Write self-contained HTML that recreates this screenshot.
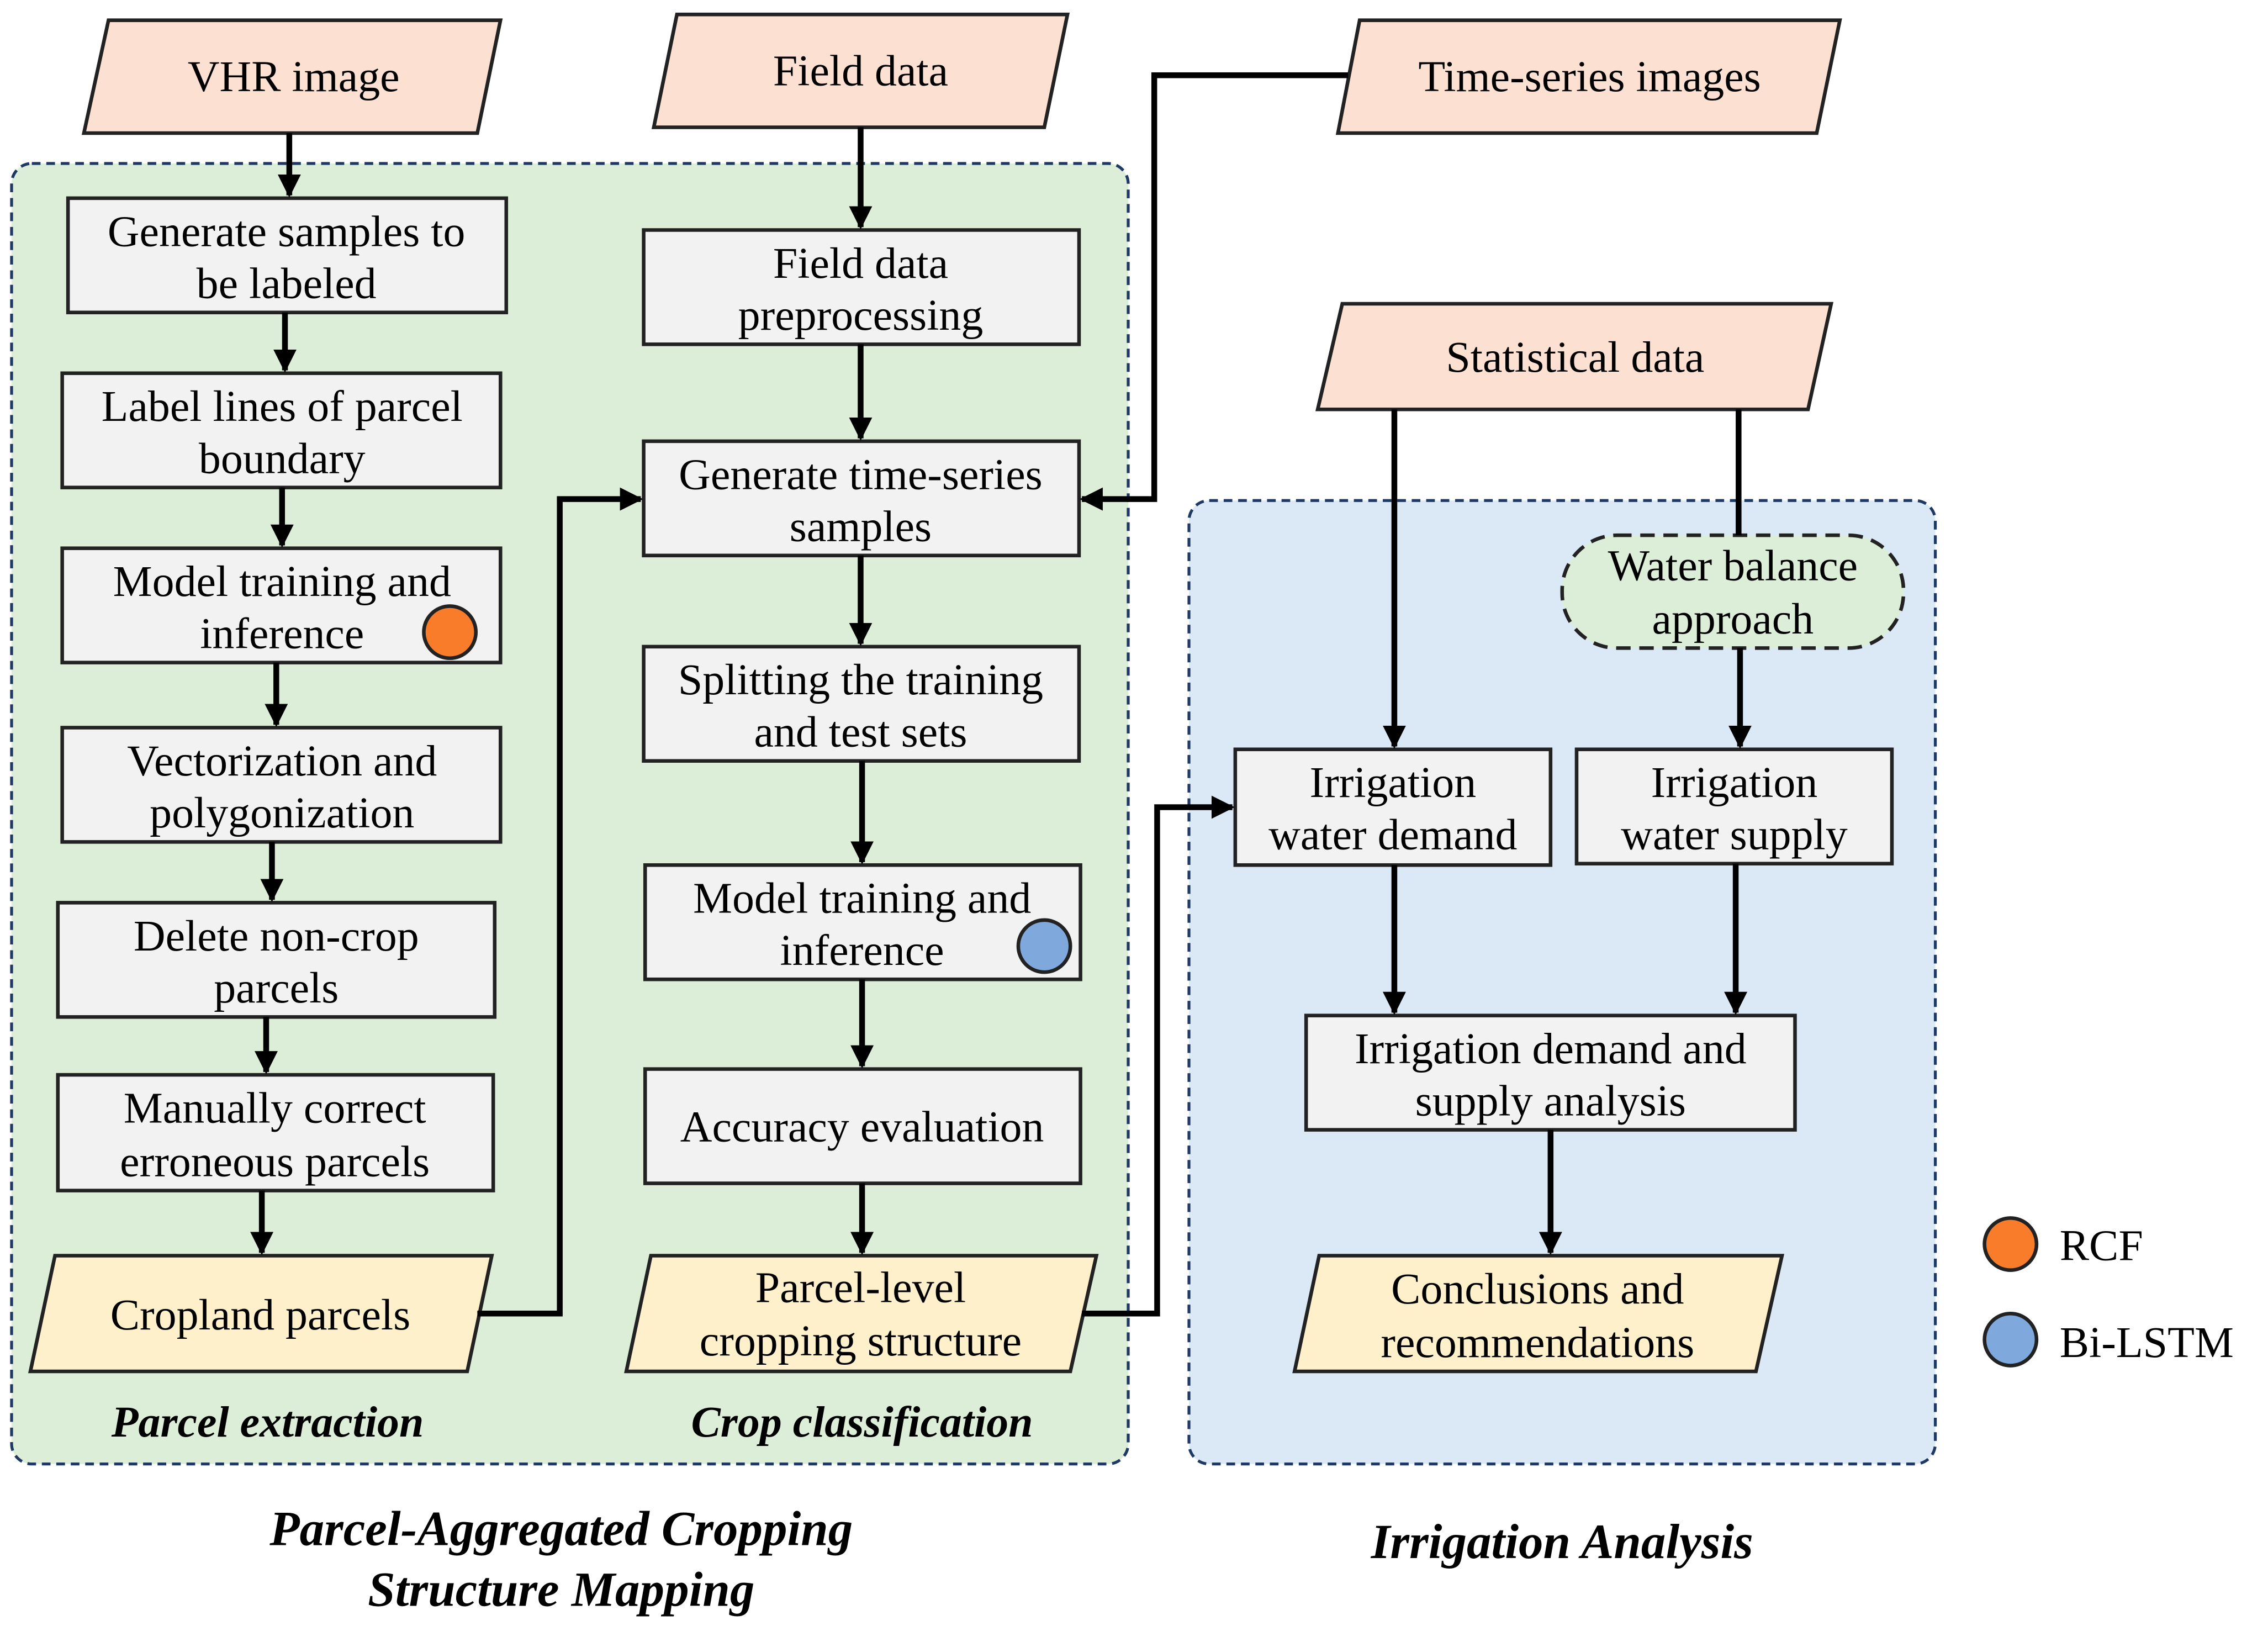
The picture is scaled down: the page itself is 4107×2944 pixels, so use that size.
<!DOCTYPE html>
<html><head><meta charset="utf-8"><style>html,body{margin:0;padding:0;background:#fff}svg{display:block}</style></head>
<body>
<svg xmlns="http://www.w3.org/2000/svg" width="4107" height="2944" viewBox="0 0 1568 1124">
<defs><marker id="a" viewBox="0 0 10 10" refX="9" refY="5" markerWidth="4" markerHeight="4" orient="auto"><path d="M0,0L10,5L0,10z" fill="#000"/></marker></defs>
<rect width="1568" height="1124" fill="#fff"/>
<rect x="8" y="113" width="772" height="899" rx="14" fill="#ddeed8" stroke="#1f3864" stroke-width="2" stroke-dasharray="6,4"/>
<rect x="822" y="346" width="516" height="666" rx="14" fill="#dbe9f6" stroke="#1f3864" stroke-width="2" stroke-dasharray="6,4"/>
<g stroke="#222" stroke-width="2.5">
<polygon points="75,14 346,14 330,92 58,92" fill="#fce1d2"/>
<polygon points="468,10 738,10 722,88 452,88" fill="#fce1d2"/>
<polygon points="940,14 1272,14 1256,92 925,92" fill="#fce1d2"/>
<polygon points="928,210 1266,210 1250,283 911,283" fill="#fce1d2"/>
<polygon points="38,868 340,868 323,948 21,948" fill="#fdf0cb"/>
<polygon points="450,868 758,868 740,948 433,948" fill="#fdf0cb"/>
<polygon points="912,868 1232,868 1214,948 895,948" fill="#fdf0cb"/>
<g fill="#f2f2f2">
<rect x="47" y="137" width="303" height="79"/><rect x="43" y="258" width="303" height="79"/>
<rect x="43" y="379" width="303" height="79"/><rect x="43" y="503" width="303" height="79"/>
<rect x="40" y="624" width="302" height="79"/><rect x="40" y="743" width="301" height="80"/>
<rect x="445" y="159" width="301" height="79"/><rect x="445" y="305" width="301" height="79"/>
<rect x="445" y="447" width="301" height="79"/><rect x="446" y="598" width="301" height="79"/>
<rect x="446" y="739" width="301" height="79"/>
<rect x="854" y="518" width="218" height="80"/><rect x="1090" y="518" width="218" height="79"/>
<rect x="903" y="702" width="338" height="79"/>
</g>
<rect x="1080" y="370" width="236" height="78" rx="38" fill="#ddeed8" stroke-dasharray="10,6"/>
<circle cx="311" cy="437" r="18" fill="#f97c2a"/><circle cx="722" cy="654" r="18" fill="#7fa8dc"/>
<circle cx="1390" cy="860" r="18" fill="#f97c2a"/><circle cx="1390" cy="926" r="18" fill="#7fa8dc"/>
</g>
<g stroke="#000" stroke-width="4" fill="none" marker-end="url(#a)">
<path d="M200,92V135"/><path d="M197,216V256"/><path d="M195,337V377"/><path d="M191,458V501"/>
<path d="M188,582V622"/><path d="M184,703V741"/><path d="M181,823V866"/>
<path d="M330,908H387V345H443"/>
<path d="M595,88V157"/><path d="M595,238V303"/><path d="M595,384V445"/><path d="M596,526V596"/>
<path d="M596,677V737"/><path d="M596,818V866"/>
<path d="M932,52H798V345H748"/>
<path d="M748,908H800V558H852"/>
<path d="M964,283V516"/><path d="M1203,448V516"/>
<path d="M964,598V700"/><path d="M1200,597V700"/><path d="M1072,781V866"/>
</g>
<path d="M1202,283V370" stroke="#000" stroke-width="4"/>
<g style="font-family:'Liberation Serif',serif" font-size="30.5" fill="#000" text-anchor="middle">
<text x="203" y="63">VHR image</text><text x="595" y="59">Field data</text>
<text x="1099" y="63">Time-series images</text><text x="1089" y="257">Statistical data</text>
<text x="198" y="170">Generate samples to</text><text x="198" y="206">be labeled</text>
<text x="195" y="291">Label lines of parcel</text><text x="195" y="327">boundary</text>
<text x="195" y="412">Model training and</text><text x="195" y="448">inference</text>
<text x="195" y="536">Vectorization and</text><text x="195" y="572">polygonization</text>
<text x="191" y="657">Delete non-crop</text><text x="191" y="693">parcels</text>
<text x="190" y="776">Manually correct</text><text x="190" y="813">erroneous  parcels</text>
<text x="180" y="919">Cropland parcels</text>
<text x="595" y="192">Field data</text><text x="595" y="228">preprocessing</text>
<text x="595" y="338">Generate time-series</text><text x="595" y="374">samples</text>
<text x="595" y="480">Splitting the training</text><text x="595" y="516">and test sets</text>
<text x="596" y="631">Model training and</text><text x="596" y="667">inference</text>
<text x="596" y="789">Accuracy evaluation</text>
<text x="595" y="900">Parcel-level</text><text x="595" y="937">cropping structure</text>
<text x="1198" y="401">Water balance</text><text x="1198" y="438">approach</text>
<text x="963" y="551">Irrigation</text><text x="963" y="587">water demand</text>
<text x="1199" y="551">Irrigation</text><text x="1199" y="587">water supply</text>
<text x="1072" y="735">Irrigation demand and</text><text x="1072" y="771">supply analysis</text>
<text x="1063" y="901">Conclusions and</text><text x="1063" y="938">recommendations</text>
<text x="1424" y="871" text-anchor="start">RCF</text><text x="1424" y="938" text-anchor="start">Bi-LSTM</text>
<g font-weight="bold" font-style="italic">
<text x="185" y="993">Parcel extraction</text><text x="596" y="993">Crop classification</text>
<text x="388" y="1068" font-size="34">Parcel-Aggregated Cropping</text>
<text x="388" y="1110" font-size="34">Structure Mapping</text>
<text x="1080" y="1077" font-size="34">Irrigation Analysis</text>
</g></g>
</svg>
</body></html>
